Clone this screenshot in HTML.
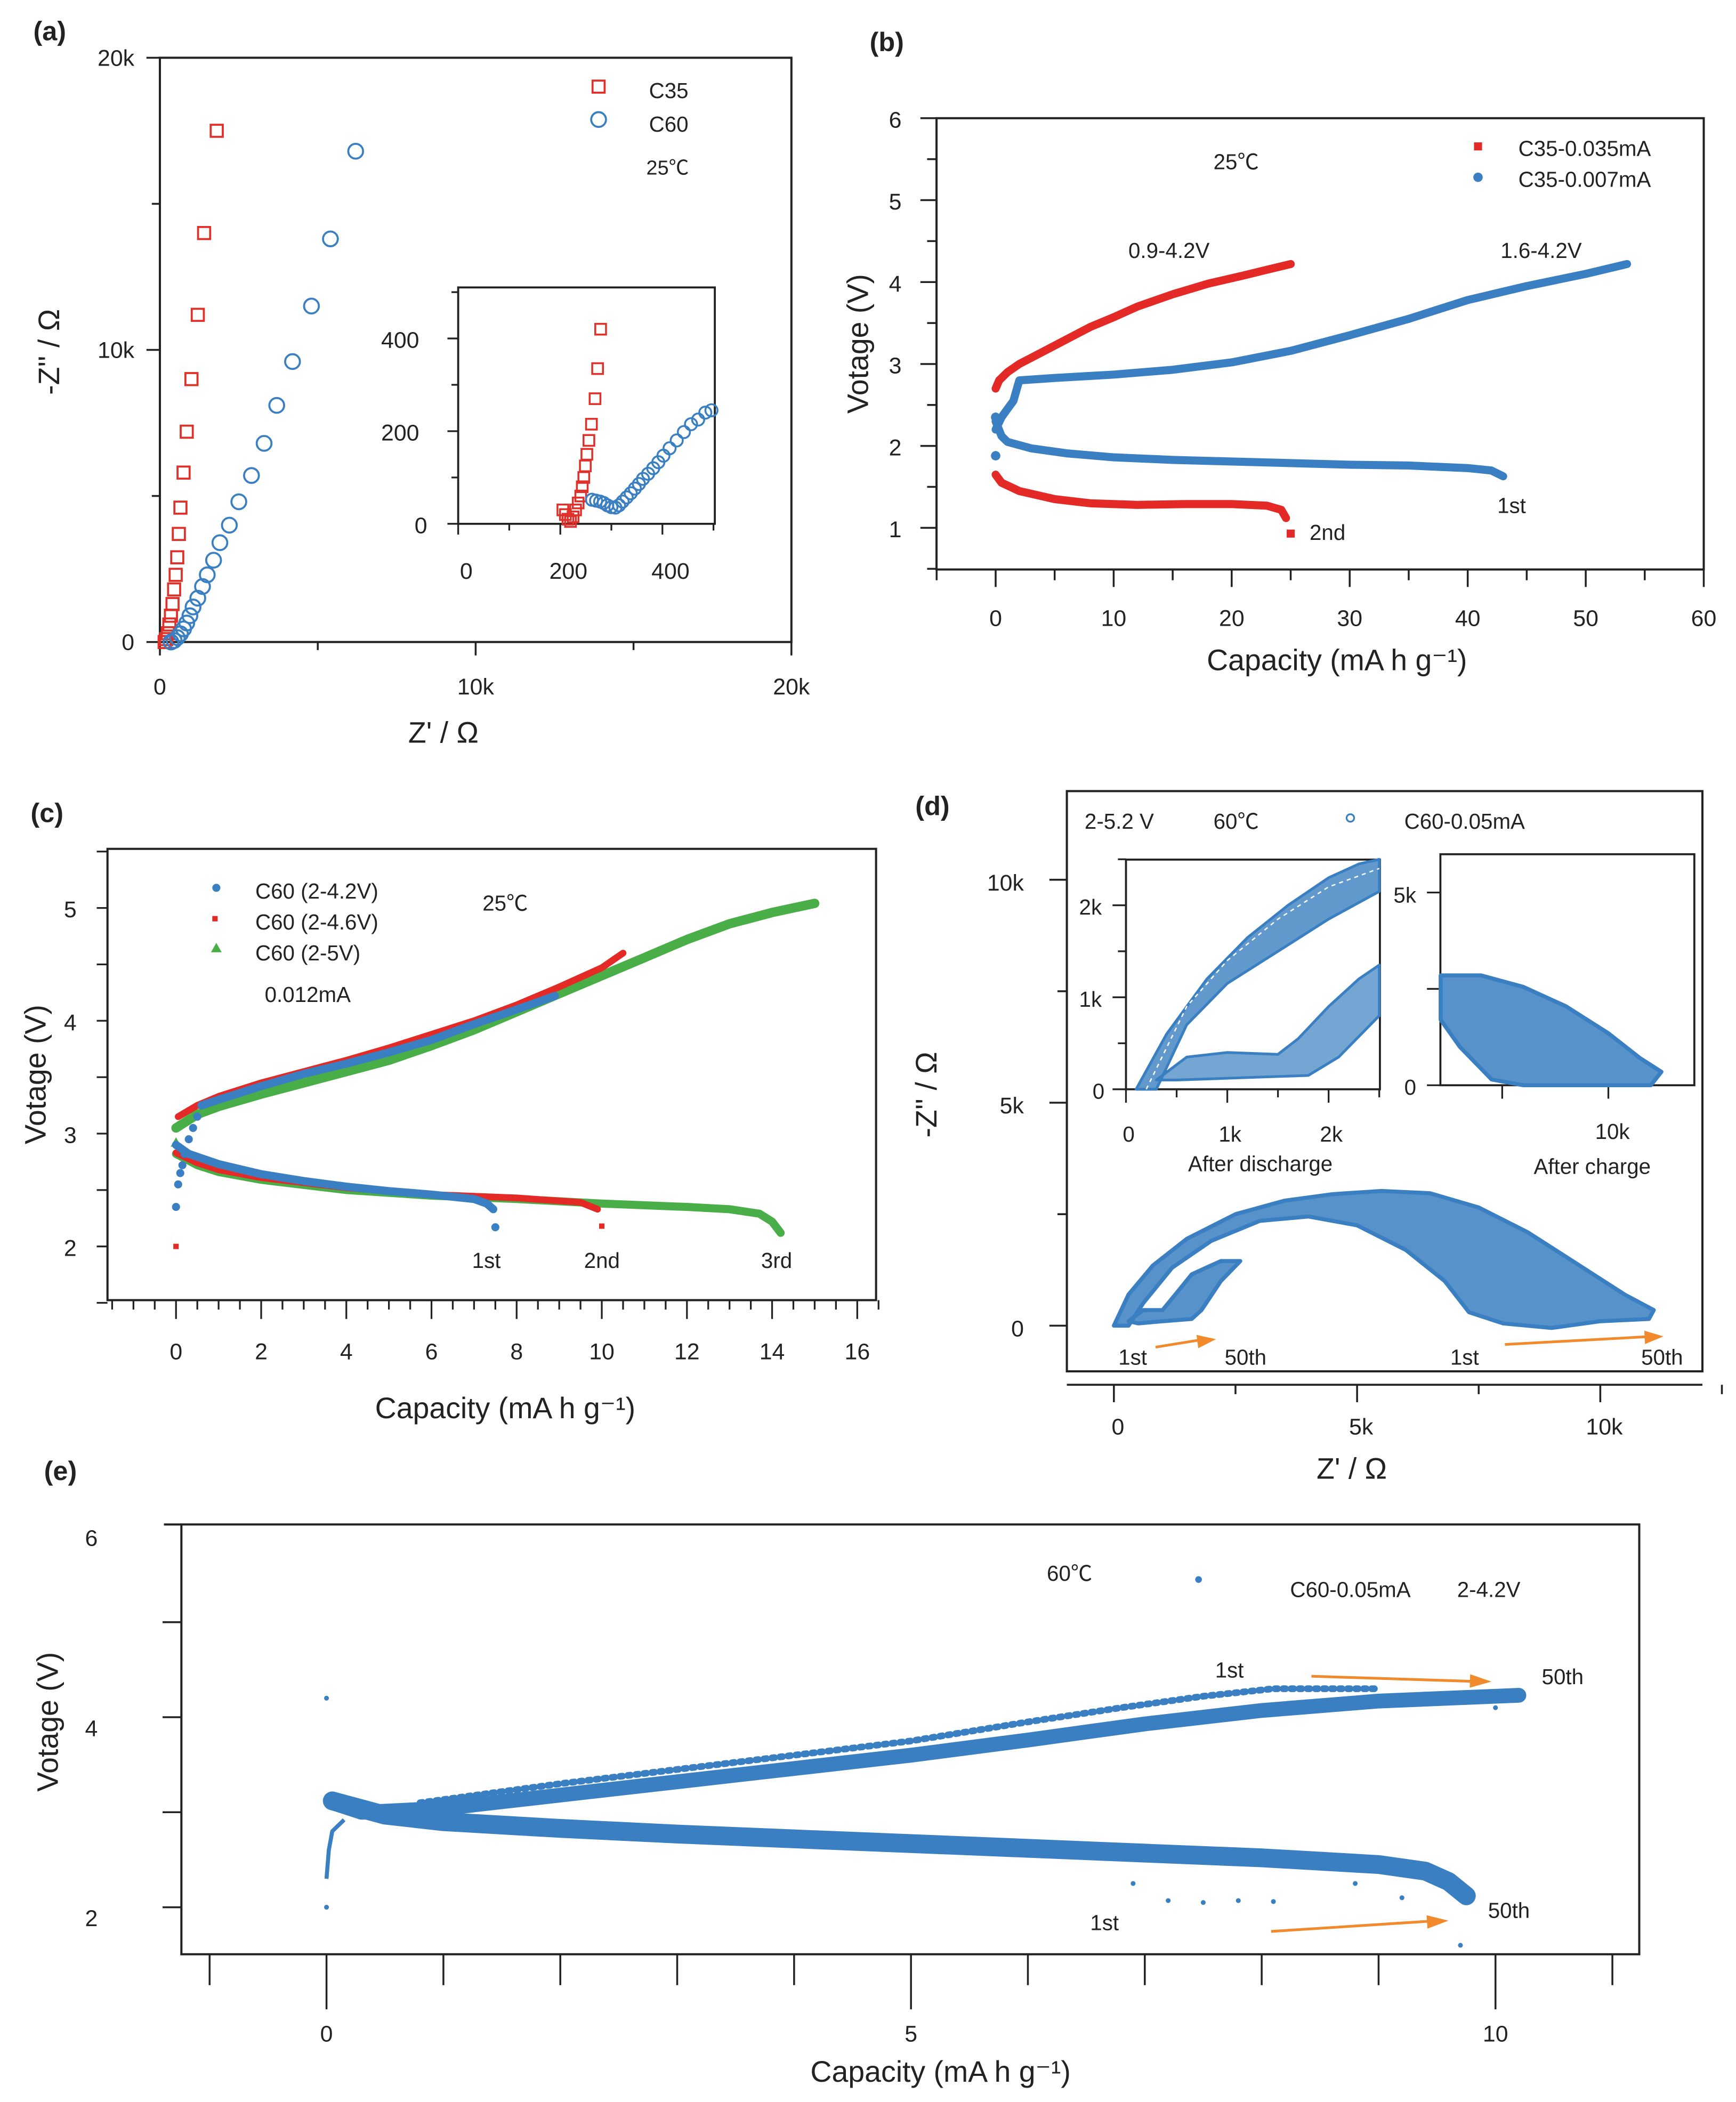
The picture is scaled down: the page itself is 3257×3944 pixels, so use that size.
<!DOCTYPE html>
<html><head><meta charset="utf-8"><title>Figure</title>
<style>
html,body{margin:0;padding:0;background:#fff;}
svg{display:block;}
text{font-family:"Liberation Sans","Noto Sans CJK SC",sans-serif;fill:#222;}
</style></head>
<body>
<svg id="fig" width="3257" height="3944" viewBox="0 0 1292 1565" preserveAspectRatio="none" xmlns="http://www.w3.org/2000/svg">
<rect x="0" y="0" width="1292" height="1565" fill="#fff"/>
</svg>
<script>
// ---------- Panel (a) data ----------
const aC35 = [[1.8,17.5],[1.4,14.0],[1.2,11.2],[1.0,9.0],[0.85,7.2],[0.75,5.8],[0.65,4.6],[0.6,3.7],[0.55,2.9],[0.5,2.3],[0.45,1.8],[0.4,1.3],[0.35,0.9],[0.3,0.6],[0.25,0.3],[0.2,0.1],[0.15,0]];
const aC60 = [[6.2,16.8],[5.4,13.8],[4.8,11.5],[4.2,9.6],[3.7,8.1],[3.3,6.8],[2.9,5.7],[2.5,4.8],[2.2,4.0],[1.9,3.4],[1.7,2.8],[1.5,2.3],[1.35,1.9],[1.2,1.5],[1.05,1.2],[0.95,0.9],[0.85,0.65],[0.75,0.45],[0.65,0.28],[0.55,0.15],[0.45,0.05],[0.35,0.0]];
const aInsetC35 = [[205,30],[210,20],[215,10],[220,5],[225,15],[230,30],[235,45],[240,60],[243,80],[246,100],[249,125],[252,150],[256,180],[261,215],[268,270],[273,335],[279,420]];
const aInsetC60 = [[262,52],[270,50],[278,48],[285,45],[292,40],[300,36],[308,35],[315,40],[322,48],[330,57],[338,66],[346,76],[354,86],[362,97],[372,108],[382,120],[392,133],[402,147],[414,163],[428,180],[442,198],[456,215],[470,225],[484,240],[496,245]];
const aXTicks = ["0","10k","20k"];
const aInsetTicks = ["0","200","400"];
// ---------- Panel (b) data ----------
const bRedCharge = [[0,2.7],[0.3,2.8],[1,2.9],[2,3.0],[4,3.15],[6,3.3],[8,3.45],[10,3.57],[12,3.7],[15,3.85],[18,3.98],[21,4.08],[23,4.15],[25,4.22]];
const bRedDischarge = [[0,1.65],[0.5,1.55],[2,1.45],[5,1.35],[8,1.3],[12,1.28],[16,1.29],[20,1.29],[23,1.27],[24.2,1.22],[24.6,1.12]];
const bRedEnd = [[25,0.93]];
const bBlueCharge = [[0,2.2],[0.5,2.35],[1,2.45],[1.5,2.55],[2,2.8],[5,2.83],[10,2.87],[15,2.93],[20,3.02],[25,3.16],[30,3.35],[35,3.55],[40,3.78],[45,3.95],[50,4.1],[53.5,4.22]];
const bBlueDischarge = [[0,2.3],[0.5,2.12],[1,2.05],[3,1.97],[6,1.91],[10,1.86],[15,1.83],[20,1.81],[25,1.79],[30,1.77],[35,1.76],[40,1.73],[42,1.7],[43,1.63]];
const bBlueStart = [[0,1.88],[0,2.35]];
const bXTicks = [0,10,20,30,40,50,60];
const bYTicks = [1,2,3,4,5,6];
// ---------- Panel (c) data ----------
const cBlueCharge = [[0.6,3.25],[1,3.3],[2,3.42],[3,3.53],[4,3.62],[5,3.72],[6,3.83],[7,3.97],[8,4.1],[8.9,4.22]];
const cBlueRise = [[0,2.35],[0.05,2.55],[0.1,2.65],[0.15,2.72],[0.2,2.82],[0.3,2.95],[0.4,3.05],[0.5,3.15],[0.6,3.25]];
const cBlueDischarge = [[0,2.9],[0.3,2.82],[1,2.73],[2,2.64],[3,2.58],[4,2.53],[5,2.49],[6,2.46],[7,2.42],[7.3,2.38],[7.45,2.33]];
const cBlueEnd = [[7.5,2.17]];
const cRedCharge = [[0.05,3.15],[0.5,3.25],[1,3.33],[2,3.45],[3,3.55],[4,3.65],[5,3.76],[6,3.88],[7,4.0],[8,4.14],[9,4.3],[10,4.47],[10.5,4.6]];
const cRedDischarge = [[0,2.83],[0.5,2.74],[1,2.68],[2,2.61],[4,2.52],[6,2.46],[8,2.43],[9.5,2.39],[9.9,2.33]];
const cRedExtra = [[0,2.0],[10,2.18]];
const cGreenCharge = [[0,3.05],[0.5,3.17],[1,3.24],[2,3.35],[3,3.45],[4,3.55],[5,3.65],[6,3.78],[7,3.92],[8,4.08],[9,4.24],[10,4.4],[11,4.56],[12,4.72],[13,4.86],[14,4.96],[15,5.04]];
const cGreenDischarge = [[0,2.82],[0.5,2.72],[1,2.66],[2,2.59],[4,2.5],[6,2.45],[8,2.42],[10,2.38],[12,2.35],[13,2.33],[13.7,2.29],[14,2.22],[14.2,2.12]];
const cGreenStart = [[0,2.92]];
const cXTicks = [0,2,4,6,8,10,12,14,16];
const cYTicks = [2,3,4,5];
// ---------- Panel (d) data (units: k-ohm) ----------
const dOuter = [[0,0],[0.3,0.7],[0.8,1.35],[1.5,1.95],[2.5,2.5],[3.5,2.8],[4.5,2.95],[5.5,3.02],[6.5,2.97],[7.5,2.65],[8.5,2.1],[9.5,1.4],[10.5,0.7],[11.1,0.35]];
const dInner = [[11.0,0.15],[10,0.1],[9,-0.05],[8,0.05],[7.3,0.3],[6.8,1.0],[6,1.7],[5,2.25],[4,2.45],[3,2.35],[2,1.9],[1.2,1.3],[0.6,0.5],[0.3,0]];
const dSmall = [[0.3,0.1],[0.6,0.35],[1.0,0.35],[1.3,0.75],[1.6,1.15],[1.9,1.3],[2.2,1.45],[2.6,1.45],[2.2,1.0],[1.8,0.35],[1.6,0.15],[1.0,0.1],[0.5,0.05]];
const dInset1Upper = [[0.1,0],[0.4,0.6],[0.8,1.2],[1.2,1.65],[1.6,2.0],[2.0,2.3],[2.3,2.45],[2.5,2.5],[2.5,2.15],[2.0,1.85],[1.5,1.5],[1.0,1.15],[0.6,0.7],[0.3,0]];
const dInset1Lower = [[0.3,0.1],[0.6,0.35],[1.0,0.4],[1.5,0.38],[1.7,0.55],[2.0,0.9],[2.3,1.2],[2.5,1.35],[2.5,0.8],[2.1,0.35],[1.8,0.15],[1.0,0.12],[0.5,0.1]];
const dInset1Lines = [[0.2,0],[0.6,0.9],[1.0,1.4],[1.5,1.85],[2.0,2.2],[2.5,2.4]];
const dInset2Band = [[2.1,2.85],[4,2.85],[6,2.55],[8,2.05],[10,1.35],[11.5,0.7],[12.5,0.35],[12.0,0],[6.0,0],[4.5,0.15],[3.0,1.0],[2.1,1.7]];
const dMainXTicks = ["0","5k","10k"];
const dMainYTicks = ["0","5k","10k"];
// ---------- Panel (e) data ----------
const eCharge = [[0.05,3.1],[0.3,3.0],[1,3.04],[2,3.18],[3,3.32],[4,3.46],[5,3.6],[6,3.76],[7,3.93],[8,4.07],[9,4.17],[10,4.22],[10.2,4.23]];
const eChargeUpper = [[0.8,3.1],[2,3.3],[3,3.45],[4,3.6],[5,3.75],[6,3.95],[6.8,4.1],[7.5,4.22],[8.1,4.3],[9,4.3]];
const eDischarge = [[0.05,3.12],[0.5,2.97],[1,2.9],[2,2.83],[3,2.77],[4,2.72],[5,2.67],[6,2.62],[7,2.57],[8,2.52],[9,2.45],[9.4,2.38],[9.6,2.27],[9.75,2.12]];
const eRise = [[0,2.3],[0.02,2.6],[0.05,2.8],[0.15,2.92]];
const eOutliers = [[0,4.2],[0,2.0],[6.9,2.25],[7.2,2.07],[7.5,2.05],[7.8,2.07],[8.1,2.06],[9.7,1.6],[10.0,4.1],[8.8,2.25],[9.2,2.1]];
const eXTicks = [0,5,10];
const eYTicks = [2,4,6];

const NS = "http://www.w3.org/2000/svg";
const svg = document.getElementById('fig');
function mk(tag, attrs, parent){
  const e = document.createElementNS(NS, tag);
  for (const k in attrs) e.setAttribute(k, attrs[k]);
  (parent||svg).appendChild(e);
  return e;
}
function lin(d0,d1,p0,p1){ return v => p0 + (v-d0)/(d1-d0)*(p1-p0); }
function txt(x,y,s,size,opts){
  opts = opts||{};
  const t = mk('text',{x:x,y:y,'font-size':size,'text-anchor':opts.anchor||'middle'});
  if(opts.bold) t.setAttribute('font-weight','bold');
  if(opts.rot) t.setAttribute('transform','rotate(-90 '+x+' '+y+')');
  t.textContent = s;
  return t;
}
function line(x1,y1,x2,y2,w,c){ return mk('line',{x1:x1,y1:y1,x2:x2,y2:y2,stroke:c||'#222','stroke-width':w||1.5}); }
function pts(arr,sx,sy){ return arr.map(p=>sx(p[0]).toFixed(1)+','+sy(p[1]).toFixed(1)).join(' '); }

// ================= Panel (a) =================
(function(){
  const sx = lin(0,20,119,589), sy = lin(0,20,478,43);
  const lab = txt(37,30,'(a)',20,{bold:true});
  
  
  const box = mk('rect',{x:119,y:43,width:470,height:435,fill:'none',stroke:'#222','stroke-width':1.6});
  
  
  [0,5,10,15,20].forEach(v=>{
    const big = v%10===0;
    const tx = line(sx(v),478,sx(v),big?488:484,1.4);
    
    
    const ty = line(119,sy(v),big?109:113,sy(v),1.4);
    
    
  });
  aXTicks.forEach((s,i)=>{
    const t = txt(sx(i*10),517,s,17);
    
    
    const t2 = txt(100,sy(i*10)+(i===2?6:6),s,17,{anchor:'end'});
    
    
  });
  const xt = txt(330,553,"Z' / Ω",22);
  
  
  const yt = txt(44,262,"-Z'' / Ω",22,{rot:true});
  
  
  aC35.forEach(p=>{
    const m = mk('rect',{x:sx(p[0])-4.5,y:sy(p[1])-4.5,width:9,height:9,fill:'none',stroke:'#e0302a','stroke-width':1.5});
    
    
  });
  aC60.forEach(p=>{
    const m = mk('circle',{cx:sx(p[0]),cy:sy(p[1]),r:5.5,fill:'none',stroke:'#3a7fc1','stroke-width':1.5});
    
    
  });
  const l1 = mk('rect',{x:441,y:60,width:9,height:9,fill:'none',stroke:'#e0302a','stroke-width':1.5});
  
  
  const l1t = txt(483,73,'C35',16,{anchor:'start'});
  
  
  const l2 = mk('circle',{cx:445.5,cy:89,r:5.5,fill:'none',stroke:'#3a7fc1','stroke-width':1.5});
  
  
  const l2t = txt(483,98,'C60',16,{anchor:'start'});
  
  
  const tt = txt(481,130,'25℃',15,{anchor:'start'});
  
  
  // inset
  const ix = lin(0,200,341,417), iy = lin(0,200,390,321);
  const ib = mk('rect',{x:341,y:214,width:191,height:176,fill:'#fff',stroke:'#222','stroke-width':1.5});
  
  
  [0,100,200,300,400,500].forEach(v=>{
    if(ix(v)>533) return;
    const big = v%200===0;
    const tk = line(ix(v),390,ix(v),big?398:395,1.3);
    
    
  });
  [0,100,200,300,400,500].forEach(v=>{
    if(iy(v)<214) return;
    const big = v%200===0;
    const tk = line(341,iy(v),big?333:336,iy(v),1.3);
    
    
  });
  line(333,390,341,390,1.3);
  aInsetTicks.forEach((s,i)=>{
    const t = txt(ix(i*200)+6,431,s,17);
    
    
    const t2 = txt(i===0?318:312,iy(i*200)+7,s,17,{anchor:'end'});
    
    
  });
  aInsetC35.forEach(p=>{
    const m = mk('rect',{x:ix(p[0])-4,y:iy(p[1])-4,width:8,height:8,fill:'none',stroke:'#e0302a','stroke-width':1.4});
    
    
  });
  aInsetC60.forEach(p=>{
    const m = mk('circle',{cx:ix(p[0]),cy:iy(p[1]),r:4.5,fill:'none',stroke:'#3a7fc1','stroke-width':1.4});
    
    
  });
})();

// ================= Panel (b) =================
(function(){
  const sx = lin(0,60,741,1268), sy = lin(1,6,393,88);
  const lab = txt(660,38,'(b)',20,{bold:true});
  
  
  const box = mk('rect',{x:697,y:88,width:571,height:336,fill:'none',stroke:'#222','stroke-width':1.6});
  
  
  for(let v=-5; v<=60; v+=5){
    const big = v%10===0;
    const tk = line(sx(v),424,sx(v),big?437:432,1.4);
    
    
  }
  for(let v=0.5; v<=6; v+=0.5){
    const big = Number.isInteger(v);
    const tk = line(697,sy(v),big?685:690,sy(v),1.4);
    
    
  }
  bXTicks.forEach(v=>{
    const t = txt(sx(v),466,String(v),17);
    
    
  });
  bYTicks.forEach(v=>{
    const t = txt(671,sy(v)+7,String(v),17,{anchor:'end'});
    
    
  });
  const xt = txt(995,499,'Capacity   (mA h g⁻¹)',22);
  
  
  const yt = txt(646,256,'Votage (V)',22,{rot:true});
  
  
  function series(arr,c,w,name){
    const p = mk('polyline',{points:pts(arr,sx,sy),fill:'none',stroke:c,'stroke-width':w,'stroke-linecap':'round','stroke-linejoin':'round'});
    
    
  }
  series(bRedCharge,'#e32a26',6,'c35-0035ma-charge');
  series(bRedDischarge,'#e32a26',6,'c35-0035ma-discharge');
  bRedEnd.forEach(p=>{
    const m = mk('rect',{x:sx(p[0])-3,y:sy(p[1])-3,width:6,height:6,fill:'#e32a26'});
    
    
  });
  series(bBlueCharge,'#3a7fc1',6,'c35-0007ma-charge');
  series(bBlueDischarge,'#3a7fc1',6,'c35-0007ma-discharge');
  bBlueStart.forEach(p=>{
    const m = mk('circle',{cx:sx(p[0]),cy:sy(p[1]),r:3.5,fill:'#3a7fc1'});
    
    
  });
  const r1 = mk('rect',{x:1097,y:106,width:6,height:6,fill:'#e32a26'});
  
  
  const r1t = txt(1130,116,'C35-0.035mA',16,{anchor:'start'});
  
  
  const r2 = mk('circle',{cx:1100,cy:132,r:3.5,fill:'#3a7fc1'});
  
  
  const r2t = txt(1130,139,'C35-0.007mA',16,{anchor:'start'});
  
  
  [['25℃',920,126,'panel-b-temperature'],['0.9-4.2V',870,192,'range-label-red'],['1.6-4.2V',1147,192,'range-label-blue'],['2nd',988,402,'cycle-2nd-label'],['1st',1125,382,'cycle-1st-label']].forEach(a=>{
    const t = txt(a[1],a[2],a[0],16);
    
    
  });
})();

// ================= Panel (c) =================
(function(){
  const sx = lin(0,16,131,638), sy = lin(2,5,928,676);
  const lab = txt(35,612,'(c)',20,{bold:true});
  
  
  const box = mk('rect',{x:80,y:632,width:572,height:336,fill:'none',stroke:'#222','stroke-width':1.6});
  
  
  for(let v=-1.5; v<=16.5; v+=0.5){
    const big = v%2===0;
    const tk = line(sx(v),968,sx(v),big?982:975,1.3);
    
    
  }
  for(let v=1.5; v<=5.5; v+=0.5){
    const tk = line(80,sy(v),72,sy(v),1.3);
    
    
  }
  cXTicks.forEach(v=>{
    const t = txt(sx(v),1012,String(v),17);
    
    
  });
  cYTicks.forEach(v=>{
    const t = txt(57,sy(v)+7,String(v),17,{anchor:'end'});
    
    
  });
  const xt = txt(376,1056,'Capacity  (mA h g⁻¹)',22);
  
  
  const yt = txt(34,800,'Votage (V)',22,{rot:true});
  
  
  function series(arr,c,w,name){
    const p = mk('polyline',{points:pts(arr,sx,sy),fill:'none',stroke:c,'stroke-width':w,'stroke-linecap':'round','stroke-linejoin':'round'});
    
    
  }
  function dots(arr,c,name,shape){
    arr.forEach(p=>{
      let m;
      if(shape==='sq') m = mk('rect',{x:sx(p[0])-2,y:sy(p[1])-2,width:4,height:4,fill:c});
      else if(shape==='tri') m = mk('polygon',{points:(sx(p[0]))+','+(sy(p[1])-4)+' '+(sx(p[0])-4)+','+(sy(p[1])+3)+' '+(sx(p[0])+4)+','+(sy(p[1])+3),fill:c});
      else m = mk('circle',{cx:sx(p[0]),cy:sy(p[1]),r:3,fill:c});
      
      
    });
  }
  series(cGreenCharge,'#4aae48',7,'c60-2-5v-charge');
  series(cGreenDischarge,'#4aae48',6,'c60-2-5v-discharge');
  dots(cGreenStart,'#4aae48','c60-2-5v-start','tri');
  series(cRedCharge,'#e32a26',5,'c60-2-46v-charge');
  series(cRedDischarge,'#e32a26',5,'c60-2-46v-discharge');
  dots(cRedExtra,'#e32a26','c60-2-46v-point','sq');
  series(cBlueCharge,'#3a7fc1',6,'c60-2-42v-charge');
  dots(cBlueRise,'#3a7fc1','c60-2-42v-rise-point','dot');
  series(cBlueDischarge,'#3a7fc1',6,'c60-2-42v-discharge');
  dots(cBlueEnd,'#3a7fc1','c60-2-42v-end-point','dot');
  const leg = [['C60 (2-4.2V)','#3a7fc1','dot',667],['C60 (2-4.6V)','#e32a26','sq',690],['C60 (2-5V)','#4aae48','tri',713]];
  leg.forEach(l=>{
    let m;
    if(l[2]==='sq') m = mk('rect',{x:158,y:l[3]-8,width:4,height:4,fill:l[1]});
    else if(l[2]==='tri') m = mk('polygon',{points:'161,'+(l[3]-11)+' 157,'+(l[3]-4)+' 165,'+(l[3]-4),fill:l[1]});
    else m = mk('circle',{cx:161,cy:l[3]-6,r:3,fill:l[1]});
    
    
    const t = txt(190,l[3]+2,l[0],16,{anchor:'start'});
    
    
  });
  [['0.012mA',229,746,'panel-c-current'],['25℃',376,678,'panel-c-temperature'],['1st',362,944,'cycle-1st-label'],['2nd',448,944,'cycle-2nd-label'],['3rd',578,944,'cycle-3rd-label']].forEach(a=>{
    const t = txt(a[1],a[2],a[0],16);
    
    
  });
})();

// ================= Panel (d) =================
(function(){
  const sx = lin(0,10,829,1191), sy = lin(0,10,987,655);
  const lab = txt(694,607,'(d)',20,{bold:true});
  
  
  const box = mk('rect',{x:794,y:589,width:473,height:432,fill:'none',stroke:'#222','stroke-width':1.6});
  
  
  line(794,1031,1267,1031,1.5);
  for(let v=0; v<=12.5; v+=2.5){
    const big = v%5===0;
    const tk = line(sx(v),1031,sx(v),big?1044:1038,1.4);
    
    
  }
  for(let v=0; v<=10; v+=2.5){
    const big = v%5===0;
    const tk = line(794,sy(v),big?781:787,sy(v),1.4);
    
    
  }
  dMainXTicks.forEach((s,i)=>{
    const t = txt(sx(i*5)+3,1068,s,17);
    
    
  });
  dMainYTicks.forEach((s,i)=>{
    const t = txt(762,sy(i*5)+8,s,17,{anchor:'end'});
    
    
  });
  const xt = txt(1006,1101,"Z' / Ω",22);
  
  
  const yt = txt(697,815,"-Z'' / Ω",22,{rot:true});
  
  
  const blue = '#3a7fc1';
  const p1 = mk('polygon',{points:pts(dOuter.concat(dInner),sx,sy),fill:blue,'fill-opacity':0.85,stroke:blue,'stroke-width':3,'stroke-linejoin':'round'});
  
  
  const p2 = mk('polygon',{points:pts(dSmall,sx,sy),fill:blue,'fill-opacity':0.85,stroke:blue,'stroke-width':3,'stroke-linejoin':'round'});
  
  
  [['2-5.2 V',833,617,'panel-d-voltage-range'],['60℃',920,617,'panel-d-temperature'],['C60-0.05mA',1090,617,'panel-d-legend-label'],['1st',843,1016,'arrow-1st-left'],['50th',927,1016,'arrow-50th-left'],['1st',1090,1016,'arrow-1st-right'],['50th',1237,1016,'arrow-50th-right']].forEach(a=>{
    const t = txt(a[1],a[2],a[0],16);
    
    
  });
  const lm = mk('circle',{cx:1005,cy:609,r:2.8,fill:'none',stroke:blue,'stroke-width':1.3});
  
  
  function arrow(x1,y1,x2,y2,name){
    const a = line(x1,y1,x2-8,y2,2,'#f08a2c');
    
    
    const ang = Math.atan2(y2-y1,x2-x1);
    const hx = x2, hy = y2;
    const h = mk('polygon',{points:hx+','+hy+' '+(hx-14*Math.cos(ang)+5*Math.sin(ang))+','+(hy-14*Math.sin(ang)-5*Math.cos(ang))+' '+(hx-14*Math.cos(ang)-5*Math.sin(ang))+','+(hy-14*Math.sin(ang)+5*Math.cos(ang)),fill:'#f08a2c'});
    
    
  }
  arrow(860,1003,905,997,'panel-d-arrow-left');
  arrow(1120,1001,1238,995,'panel-d-arrow-right');
  // inset 1
  const ix = lin(0,1,838,913.4), iy = lin(0,1,811,742.5);
  const ib = mk('rect',{x:838,y:640,width:189,height:171,fill:'#fff',stroke:'#222','stroke-width':1.5});
  
  
  for(let v=0; v<=2.5; v+=0.5){
    const big = Number.isInteger(v);
    const tk = line(ix(v),811,ix(v),big?821:817,1.3);
    
    
    const tk2 = line(838,iy(v),big?828:832,iy(v),1.3);
    
    
  }
  ['0','1k','2k'].forEach((s,i)=>{
    const t = txt(ix(i)+2,850,s,16);
    
    
    const t2 = txt(i===0?822:820,iy(i)+7,s,16,{anchor:'end'});
    
    
  });
  const at1 = txt(938,872,'After discharge',16);
  
  
  const q1 = mk('polygon',{points:pts(dInset1Upper,ix,iy),fill:blue,'fill-opacity':0.8,stroke:blue,'stroke-width':2,'stroke-linejoin':'round'});
  
  
  const q2 = mk('polygon',{points:pts(dInset1Lower,ix,iy),fill:blue,'fill-opacity':0.7,stroke:blue,'stroke-width':2,'stroke-linejoin':'round'});
  
  
  const q3 = mk('polyline',{points:pts(dInset1Lines,ix,iy),fill:'none',stroke:'#fff','stroke-width':1,'stroke-dasharray':'3 3'});
  
  
  // inset 2
  const jx = lin(0,10,1039,1197), jy = lin(0,5,808,664.5);
  const jb = mk('rect',{x:1072,y:636,width:189,height:172,fill:'#fff',stroke:'#222','stroke-width':1.5});
  
  
  [5,10].forEach(v=>{
    const tk = line(jx(v),808,jx(v),818,1.3);
    
    
  });
  [0,2.5,5].forEach(v=>{
    const tk = line(1072,jy(v),1062,jy(v),1.3);
    
    
  });
  const j1 = txt(1200,848,'10k',16);
  
  
  const j2 = txt(1054,672,'5k',16,{anchor:'end'});
  
  
  const j3 = txt(1054,815,'0',16,{anchor:'end'});
  
  
  const at2 = txt(1185,874,'After charge',16);
  
  
  const q4 = mk('polygon',{points:pts(dInset2Band,jx,jy),fill:blue,'fill-opacity':0.85,stroke:blue,'stroke-width':3,'stroke-linejoin':'round'});
  
  
})();

// ================= Panel (e) =================
(function(){
  const sx = lin(0,10,243,1113), sy = lin(2,6,1420,1137);
  const lab = txt(45,1102,'(e)',20,{bold:true});
  
  
  const box = mk('rect',{x:135,y:1135,width:1085,height:320,fill:'none',stroke:'#222','stroke-width':1.6});
  
  
  line(122,1135,135,1135,1.6);
  for(let v=-1; v<=11; v+=1){
    const big = v%5===0;
    const tk = line(sx(v),1455,sx(v),big?1496:1478,1.4);
    
    
  }
  [2,3,4,5].forEach(v=>{
    const tk = line(135,sy(v),121,sy(v),1.4);
    
    
  });
  eXTicks.forEach(v=>{
    const t = txt(sx(v),1520,String(v),17);
    
    
  });
  eYTicks.forEach(v=>{
    const t = txt(68,sy(v)+(v===6?14:(v===2?14:14)),String(v),17);
    
    
  });
  const xt = txt(700,1550,'Capacity  (mA h g⁻¹)',22);
  
  
  const yt = txt(43,1282,'Votage (V)',22,{rot:true});
  
  
  const blue = '#3a7fc1';
  const up = mk('polyline',{points:pts(eChargeUpper,sx,sy),fill:'none',stroke:blue,'stroke-width':5,'stroke-dasharray':'2 4','stroke-linecap':'round'});
  
  
  const ch = mk('polyline',{points:pts(eCharge,sx,sy),fill:'none',stroke:blue,'stroke-width':11,'stroke-linecap':'round','stroke-linejoin':'round'});
  
  
  const dc = mk('polyline',{points:pts(eDischarge,sx,sy),fill:'none',stroke:blue,'stroke-width':14,'stroke-linecap':'round','stroke-linejoin':'round'});
  
  
  const rs = mk('polyline',{points:pts(eRise,sx,sy),fill:'none',stroke:blue,'stroke-width':3});
  
  
  eOutliers.forEach(p=>{
    const m = mk('circle',{cx:sx(p[0]),cy:sy(p[1]),r:1.8,fill:blue});
    
    
  });
  const lm = mk('circle',{cx:892,cy:1176,r:2.5,fill:blue});
  
  
  [['60℃',796,1177,'panel-e-temperature'],['C60-0.05mA',1005,1189,'panel-e-legend-label'],['2-4.2V',1108,1189,'panel-e-voltage-range'],['1st',915,1249,'charge-1st-label'],['50th',1163,1254,'charge-50th-label'],['50th',1123,1428,'discharge-50th-label'],['1st',822,1437,'discharge-1st-label']].forEach(a=>{
    const t = txt(a[1],a[2],a[0],16);
    
    
  });
  function arrow(x1,y1,x2,y2,name){
    const a = line(x1,y1,x2-8,y2,2,'#f08a2c');
    
    
    const ang = Math.atan2(y2-y1,x2-x1);
    const h = mk('polygon',{points:x2+','+y2+' '+(x2-16*Math.cos(ang)+5*Math.sin(ang))+','+(y2-16*Math.sin(ang)-5*Math.cos(ang))+' '+(x2-16*Math.cos(ang)-5*Math.sin(ang))+','+(y2-16*Math.sin(ang)+5*Math.cos(ang)),fill:'#f08a2c'});
    
    
  }
  arrow(976,1248,1110,1252,'charge-cycle-arrow');
  arrow(946,1438,1078,1430,'discharge-cycle-arrow');
})();
</script>
</body></html>
